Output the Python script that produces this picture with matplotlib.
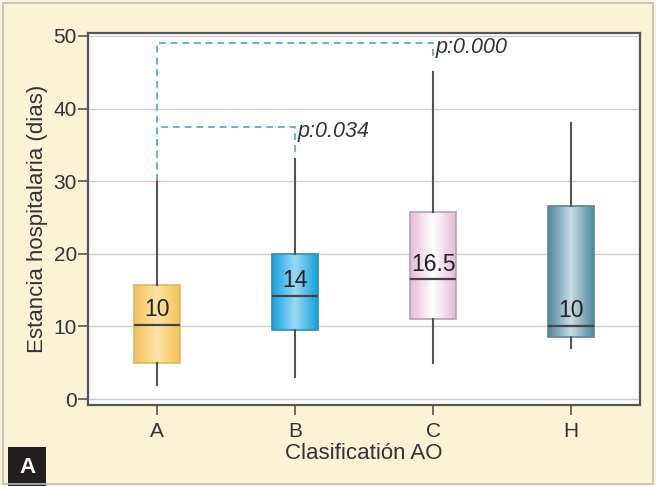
import numpy as np
import matplotlib
matplotlib.use("Agg")
import matplotlib.pyplot as plt
from matplotlib.colors import LinearSegmentedColormap
from matplotlib.patches import Rectangle

plt.rcParams['font.family'] = ['Liberation Sans', 'DejaVu Sans']

categories = ["A", "B", "C", "H"]
whislo = [2, 3, 5, 7]
q1 = [5, 9.5, 11, 8.6]
med = [10.2, 14.2, 16.5, 10.1]
q3 = [15.7, 20, 25.8, 26.6]
whishi = [30, 33, 45, 38]
median_labels = ["10", "14", "16.5", "10"]
edge_colors = ["#d9b866", "#2a8fbf", "#b9a0b2", "#5b8597"]
grad_colors = [("#f4c35a", "#fde3a6"), ("#13a2dc", "#9ad9f3"),
               ("#e4bcd6", "#ffffff"), ("#4f879d", "#c9dde6")]
pvals = ["p:0.034", "p:0.000"]
bracket_y = [37.5, 49]
bracket_start = [30, 30]
bracket_end_y = [33.5, 46.5]
bracket_to = [1, 2]

fig = plt.figure(figsize=(6.56, 4.86), dpi=100)
fig.patch.set_facecolor("#fcf2d6")
ax = fig.add_axes([0.134, 0.167, 0.842, 0.765])
ax.set_facecolor("white")

stats = []
for i in range(len(categories)):
    stats.append(dict(whislo=whislo[i], q1=q1[i], med=med[i], q3=q3[i],
                      whishi=whishi[i], label=categories[i]))
pos = np.arange(len(categories))
bp = ax.bxp(stats, positions=pos, widths=0.33, patch_artist=True,
            showcaps=False, showfliers=False,
            whiskerprops=dict(color="#555555", lw=1.5),
            medianprops=dict(color="#444444", lw=1.6),
            boxprops=dict(lw=1.2), zorder=3)

for i, box in enumerate(bp["boxes"]):
    box.set_facecolor("none")
    box.set_edgecolor(edge_colors[i])
    c0, c1 = grad_colors[i]
    cmap = LinearSegmentedColormap.from_list("g%d" % i, [c0, c1, c0])
    grad = np.linspace(0, 1, 200).reshape(1, -1)
    im = ax.imshow(grad, cmap=cmap, aspect="auto",
                   extent=[pos[i] - 0.165, pos[i] + 0.165, q1[i], q3[i]],
                   zorder=2.5)
    im.set_clip_path(box)
    ax.text(pos[i], med[i] + 0.5, median_labels[i], ha="center", va="bottom",
            fontsize=16.5, color="#222222", zorder=5)

# significance brackets
for k in range(len(pvals)):
    xb = pos[bracket_to[k]]
    ax.plot([pos[0], pos[0], xb, xb],
            [bracket_start[k], bracket_y[k], bracket_y[k], bracket_end_y[k]],
            ls=(0, (3.5, 2.5)), color="#52b8e6", lw=1.4, zorder=4)
    ax.text(xb + 0.02, bracket_y[k] - 0.6, pvals[k], ha="left", va="center",
            fontsize=15.5, style="italic", color="#333333", zorder=5)

ax.set_xlim(-0.5, 3.5)
ax.set_ylim(-0.8, 50.4)
ax.set_yticks([0, 10, 20, 30, 40, 50])
ax.set_xticks(pos)
ax.set_xticklabels(categories)
ax.yaxis.grid(True, color="#cccccc", lw=1)
ax.set_axisbelow(True)
for s in ax.spines.values():
    s.set_color("#555555")
    s.set_linewidth(1.6)
ax.tick_params(axis="both", colors="#555555", labelcolor="#333333",
               labelsize=15, length=7, width=1.2)
ax.tick_params(axis="x", pad=5)
ax.tick_params(axis="y", pad=1)
ax.set_ylabel("Estancia hospitalaria (dias)", fontsize=16, color="#333333",
              labelpad=4)
ax.set_xlabel("Clasificatión AO", fontsize=16, color="#333333", labelpad=2)

# panel label
fig.patches.append(Rectangle((8 / 656, 0), 38 / 656, 39 / 486,
                             transform=fig.transFigure, facecolor="#231f20",
                             edgecolor="none"))
fig.text(27 / 656, 19 / 486, "A", color="white", fontsize=16,
         fontweight="bold", ha="center", va="center")
fig.patches.append(Rectangle((0.004, 0.004), 0.992, 0.99,
                             transform=fig.transFigure, facecolor="none",
                             edgecolor="#bbbbbb", lw=1.2))

fig.savefig("out.png", dpi=100, facecolor=fig.get_facecolor())
